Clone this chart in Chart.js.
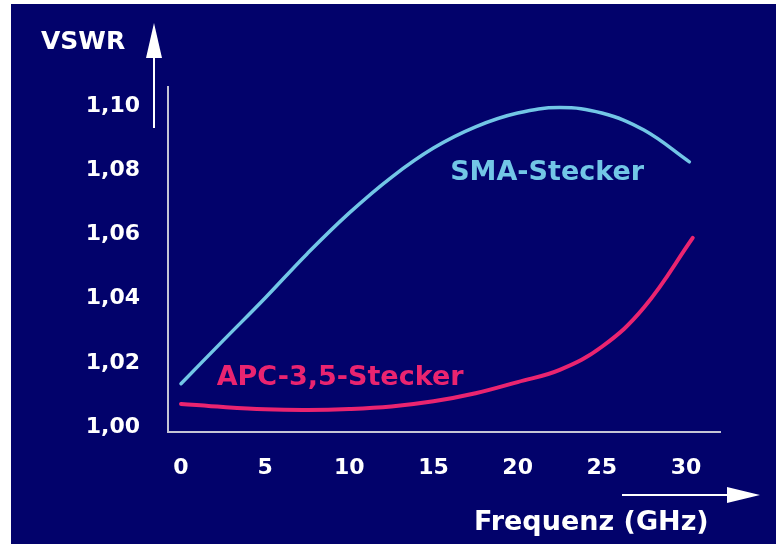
<!DOCTYPE html>
<html>
<head>
<meta charset="utf-8">
<script src="https://cdn.jsdelivr.net/npm/chart.js@4.4.1/dist/chart.umd.min.js"></script>
<style>
  html, body { margin: 0; padding: 0; background: #ffffff; }
  #wrap { width: 778px; height: 546px; position: relative; }
</style>
</head>
<body>
<div id="wrap"><canvas id="c" width="778" height="546"></canvas></div>
<script>
// ---- data ----
const freqSMA = [0, 2.5, 5, 7.5, 10, 12.5, 15, 17.5, 20, 22.5, 25, 27.5, 30.2];
const vswrSMA = [1.0135, 1.0269, 1.0402, 1.0540, 1.0667, 1.0778, 1.0869, 1.0935, 1.0978, 1.0995, 1.0978, 1.0925, 1.0826];
const freqAPC = [0, 2.5, 5, 7.5, 10, 12.5, 15, 17.5, 20, 22.5, 25, 27.5, 30.4];
const vswrAPC = [1.0072, 1.0062, 1.0055, 1.0053, 1.0056, 1.0064, 1.0080, 1.0105, 1.0140, 1.0178, 1.0250, 1.0372, 1.0589];
const yTicks = [1.00, 1.02, 1.04, 1.06, 1.08, 1.10];
const xTicks = [0, 5, 10, 15, 20, 25, 30];
const seriesNames = ['SMA-Stecker', 'APC-3,5-Stecker'];
const labelPos = [[21.75, 1.0791], [9.45, 1.0153]];
const yTitle = 'VSWR';
const xTitle = 'Frequenz (GHz)';

const NAVY = '#02026b';
const FONT = '"DejaVu Sans", sans-serif';
const colors = ['#72c6e6', '#ea2470'];

const toXY = (xs, ys) => xs.map((x, i) => ({ x: x, y: ys[i] }));

const decor = {
  id: 'decor',
  beforeDraw(chart) {
    const ctx = chart.ctx;
    ctx.save();
    ctx.fillStyle = '#ffffff';
    ctx.fillRect(0, 0, chart.width, chart.height);
    ctx.fillStyle = NAVY;
    ctx.fillRect(11, 4, 765, 540);
    ctx.restore();
  },
  afterDraw(chart) {
    const ctx = chart.ctx;
    const ca = chart.chartArea;
    const xs = chart.scales.x, ys = chart.scales.y;
    ctx.save();
    // y arrow
    const ax = ca.left - 14;
    ctx.strokeStyle = '#ffffff';
    ctx.fillStyle = '#ffffff';
    ctx.lineWidth = 2;
    ctx.beginPath();
    ctx.moveTo(ax, ca.top + 41);
    ctx.lineTo(ax, 56);
    ctx.stroke();
    ctx.beginPath();
    ctx.moveTo(ax, 23);
    ctx.lineTo(ax - 8, 58);
    ctx.lineTo(ax + 8, 58);
    ctx.closePath();
    ctx.fill();
    // x arrow
    const ay = 495;
    ctx.beginPath();
    ctx.moveTo(622, ay);
    ctx.lineTo(730, ay);
    ctx.stroke();
    ctx.beginPath();
    ctx.moveTo(760, ay);
    ctx.lineTo(727, ay - 8);
    ctx.lineTo(727, ay + 8);
    ctx.closePath();
    ctx.fill();
    // titles
    ctx.textBaseline = 'middle';
    ctx.textAlign = 'left';
    ctx.font = 'bold 25px ' + FONT;
    ctx.fillText(yTitle, 41, 42);
    ctx.font = 'bold 27px ' + FONT;
    ctx.fillText(xTitle, 474, 523);
    // series labels
    seriesNames.forEach((n, i) => {
      ctx.fillStyle = colors[i];
      ctx.textAlign = 'center';
      ctx.font = 'bold 27px ' + FONT;
      ctx.fillText(n, xs.getPixelForValue(labelPos[i][0]), ys.getPixelForValue(labelPos[i][1]));
    });
    ctx.restore();
  }
};

new Chart(document.getElementById('c'), {
  type: 'line',
  data: {
    datasets: [
      { label: seriesNames[0], data: toXY(freqSMA, vswrSMA), borderColor: colors[0], borderWidth: 3.5,
        pointRadius: 0, tension: 0.4, borderCapStyle: 'round' },
      { label: seriesNames[1], data: toXY(freqAPC, vswrAPC), borderColor: colors[1], borderWidth: 4,
        pointRadius: 0, tension: 0.4, borderCapStyle: 'round' }
    ]
  },
  options: {
    responsive: false,
    animation: false,
    devicePixelRatio: 1,
    layout: { padding: { left: 0, top: 87, right: 58, bottom: 0 } },
    plugins: { legend: { display: false }, tooltip: { enabled: false } },
    scales: {
      x: {
        type: 'linear',
        min: -0.772, max: 32.02,
        afterBuildTicks: s => { s.ticks = xTicks.map(v => ({ value: v })); },
        afterFit: s => { s.height = 114; },
        grid: { display: false, drawTicks: false },
        border: { display: true, color: '#c4c4d4', width: 2 },
        ticks: { color: '#ffffff', font: { family: FONT, size: 22, weight: 'bold' }, padding: 23,
                 maxRotation: 0, autoSkip: false, callback: v => String(v) }
      },
      y: {
        type: 'linear',
        min: 0.99844, max: 1.10592,
        afterBuildTicks: s => { s.ticks = yTicks.map(v => ({ value: v })); },
        afterFit: s => { s.width = 168; },
        grid: { display: false, drawTicks: false },
        border: { display: true, color: '#c4c4d4', width: 2 },
        ticks: { color: '#ffffff', font: { family: FONT, size: 22, weight: 'bold' }, padding: 28,
                 autoSkip: false, callback: v => v.toFixed(2).replace('.', ',') }
      }
    }
  },
  plugins: [decor]
});
</script>
</body>
</html>
